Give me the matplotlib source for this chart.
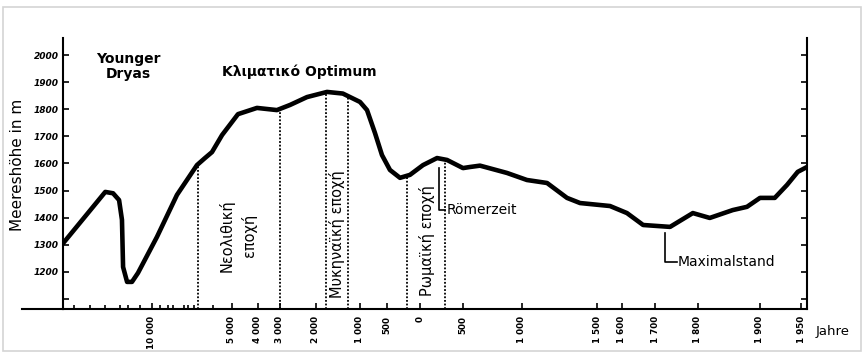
import numpy as np
import matplotlib.pyplot as plt
from matplotlib.patches import Rectangle

# Kurve: Jahr (negativ = v. Chr.) und Meereshöhe in m
curve_years = [-14000, -12100, -11750, -11480, -11350, -11300, -11120, -10900,
               -10630, -9690, -8440, -7190, -6690, -6250, -5620, -4770, -4040,
               -3140, -2720, -2250, -1750, -1390, -1000, -870, -722, -593, -455,
               -303, -152, 35, 198, 314, 500, 559, 644, 873, 1033, 1167, 1300,
               1387, 1552, 1615, 1664, 1735, 1788, 1819, 1856, 1879, 1900, 1918,
               1933, 1946, 1957]
curve_m = [1305, 1495, 1490, 1465, 1392, 1218, 1163, 1163, 1196, 1329, 1484,
           1594, 1620, 1642, 1705, 1782, 1805, 1797, 1816, 1845, 1864, 1858,
           1827, 1797, 1712, 1631, 1576, 1547, 1558, 1594, 1620, 1613, 1583,
           1587, 1592, 1565, 1539, 1528, 1473, 1454, 1443, 1417, 1373, 1366,
           1417, 1399, 1428, 1440, 1473, 1473, 1521, 1569, 1587]

# Epochengrenzen (gepunktete Linien)
era_years = [-7100, -3000, -1770, -1270, -200, 290]

# Achsenbeschriftung
tick_years = [-10000, -5000, -4000, -3000, -2000, -1000, -500, 0, 500, 1000,
              1500, 1600, 1700, 1800, 1900, 1950]
tick_labels = ["10 000", "5 000", "4 000", "3 000", "2 000", "1 000", "500", "0",
               "500", "1 000", "1 500", "1 600", "1 700", "1 800", "1 900", "1 950"]
minor_years = [-13500, -12800, -12100, -11450, -11100, -10550, -9500, -9000,
               -8700, -8000, -7750, -7400, -6200]
y_ticks = [1100, 1200, 1300, 1400, 1500, 1600, 1700, 1800, 1900, 2000]

# nichtlineare Zeitachse (Stützstellen der Originalskala)
knot_years = [-14000, -10000, -5000, -4000, -3000, -2000, -1000, -500, 0, 500,
              1000, 1500, 1600, 1700, 1800, 1900, 1950, 1957]
knot_pos = [63, 152, 232, 258, 280, 316, 360, 387, 420, 463, 522, 597, 622, 655,
            698, 760, 801, 807]


def fwd(x):
    return np.interp(x, knot_years, knot_pos)


def inv(p):
    return np.interp(p, knot_pos, knot_years)


fig = plt.figure(figsize=(8.64, 3.57), dpi=100)
fig.patches.append(Rectangle((3 / 864, 6 / 357), 858 / 864, 344 / 357,
                             transform=fig.transFigure, fill=False,
                             edgecolor="#d4d4d4", linewidth=1.2))
ax = fig.add_axes([63 / 864, 48 / 357, 744 / 864, 271 / 357])
ax.set_xscale("function", functions=(fwd, inv))
ax.set_xlim(-14000, 1957)
ax.set_ylim(1063, 2063)

ax.plot(curve_years, curve_m, color="black", linewidth=3.3,
        solid_joinstyle="round", solid_capstyle="round", zorder=3)

# gepunktete Epochenlinien bis zur Kurve
era_tops = np.interp(fwd(np.array(era_years)), fwd(np.array(curve_years)), curve_m)
ax.vlines(era_years, 1063, era_tops, colors="black", linestyles=(0, (1, 1)),
          linewidth=1.3, zorder=2)

# Achsen
ax.spines["top"].set_visible(False)
for s in ["left", "right", "bottom"]:
    ax.spines[s].set_linewidth(1.5)
ax.plot([-0.055, 0], [0, 0], transform=ax.transAxes, color="black",
        linewidth=1.5, clip_on=False)

ax.set_yticks(y_ticks)
ax.set_yticklabels(["" if v == 1100 else str(v) for v in y_ticks],
                   fontsize=6.5, fontstyle="italic", fontweight="bold")
ax.tick_params(axis="y", direction="in", length=4, width=1.2, pad=3,
               right=True)
ax.set_xticks(tick_years)
ax.set_xticklabels(tick_labels, rotation=90, fontsize=6.3, fontweight="bold")
ax.set_xticks(minor_years, minor=True)
ax.tick_params(axis="x", which="both", direction="in", length=4, width=1.2,
               pad=5)
ax.tick_params(axis="x", which="minor", length=3)

fig.text(18 / 864, 1 - 165 / 357, "Meereshöhe in m", rotation=90,
         ha="center", va="center", fontsize=11)
fig.text(816 / 864, 1 - 332 / 357, "Jahre", ha="left", va="center",
         fontsize=9.5)

# Beschriftungen im Diagramm
ax.text(-11080, 1958, "Younger\nDryas", ha="center", va="center",
        fontsize=10, fontweight="bold", linespacing=1.1)
ax.text(-2470, 1937, "Κλιματικό Optimum", ha="center", va="center",
        fontsize=10, fontweight="bold")
ax.text(-4770, 1333, "Νεολιθική\nεποχή", rotation=90, ha="center",
        va="center", fontsize=10.5, linespacing=1.5)
ax.text(-1523, 1340, "Μυκηναϊκή εποχή", rotation=90, ha="center",
        va="center", fontsize=10.5)
ax.text(81, 1314, "Ρωμαϊκή εποχή", rotation=90, ha="center",
        va="center", fontsize=10.5)

# Hinweislinien
ax.plot([220, 220, 290], [1585, 1430, 1430], color="black", linewidth=1.2)
ax.text(305, 1430, "Römerzeit", ha="left", va="center", fontsize=10)
ax.plot([1723, 1723, 1751], [1345, 1237, 1237], color="black", linewidth=1.2)
ax.text(1752, 1237, "Maximalstand", ha="left", va="center", fontsize=10)

fig.savefig("out.png", dpi=100)
